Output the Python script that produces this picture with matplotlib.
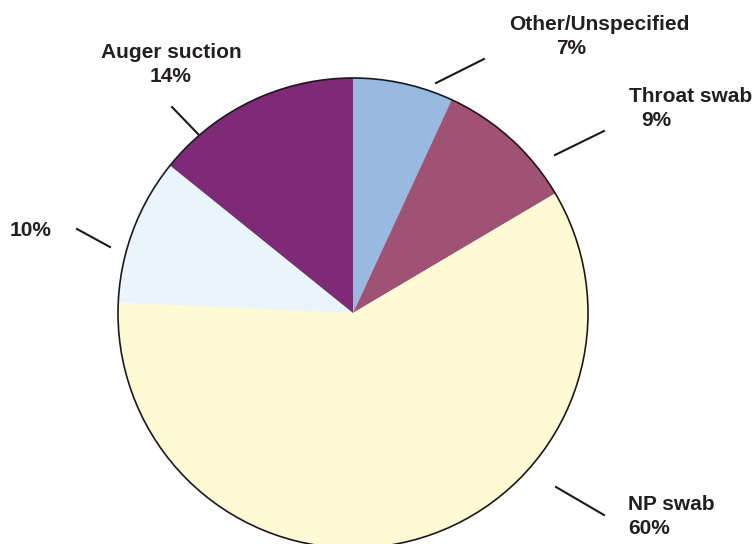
import matplotlib
matplotlib.use("Agg")
import matplotlib.pyplot as plt
from matplotlib.patches import Circle

# slices, clockwise from 12 o'clock
names = ["Other/Unspecified", "Throat swab", "NP swab", "", "Auger suction"]
values = [6.9, 9.6, 59.2, 10.1, 14.2]
pct_labels = ["7%", "9%", "60%", "10%", "14%"]
colors = ["#98b9e0", "#a05274", "#fffad3", "#eaf4fd", "#7f2a77"]

W, H = 754, 544
cx, cy, R = 353, 313, 235

fig = plt.figure(figsize=(W / 100, H / 100), dpi=100)
ax = fig.add_axes([(cx - R) / W, (H - cy - R) / H, 2 * R / W, 2 * R / H])

ax.pie(values, colors=colors, startangle=90, counterclock=False, radius=1,
       wedgeprops=dict(linewidth=0))
ax.add_patch(Circle((0, 0), 1, fill=False, edgecolor="#1a1a1a", linewidth=1.2,
                    clip_on=False))
ax.set_xlim(-1, 1)
ax.set_ylim(-1, 1)
ax.set_aspect("equal")
ax.axis("off")


def p(x, y):
    # pixel -> data coords
    return (x - cx) / R, (cy - y) / R


# leader lines
leaders = [((436, 83), (484, 59)),
           ((555, 155), (604, 131)),
           ((556, 487), (604, 515)),
           ((110, 247), (77, 229)),
           ((198, 134), (172, 107))]
for a, b in leaders:
    x0, y0 = p(*a)
    x1, y1 = p(*b)
    ax.plot([x0, x1], [y0, y1], color="#1a1a1a", lw=1.5, clip_on=False)

tk = dict(fontsize=15, fontweight="bold", color="#231f20",
          family=["Liberation Sans", "DejaVu Sans"], va="center")
ax.text(*p(599, 24), names[0], ha="center", **tk)
ax.text(*p(571, 48), pct_labels[0], ha="center", **tk)
ax.text(*p(629, 97), names[1], ha="left", **tk)
ax.text(*p(656, 121), pct_labels[1], ha="center", **tk)
ax.text(*p(628, 505), names[2], ha="left", **tk)
ax.text(*p(628, 529), pct_labels[2], ha="left", **tk)
ax.text(*p(31, 231), pct_labels[3], ha="center", **tk)
ax.text(*p(171, 52), names[4], ha="center", **tk)
ax.text(*p(171, 77), pct_labels[4], ha="center", **tk)

fig.savefig("out.png", dpi=100)
